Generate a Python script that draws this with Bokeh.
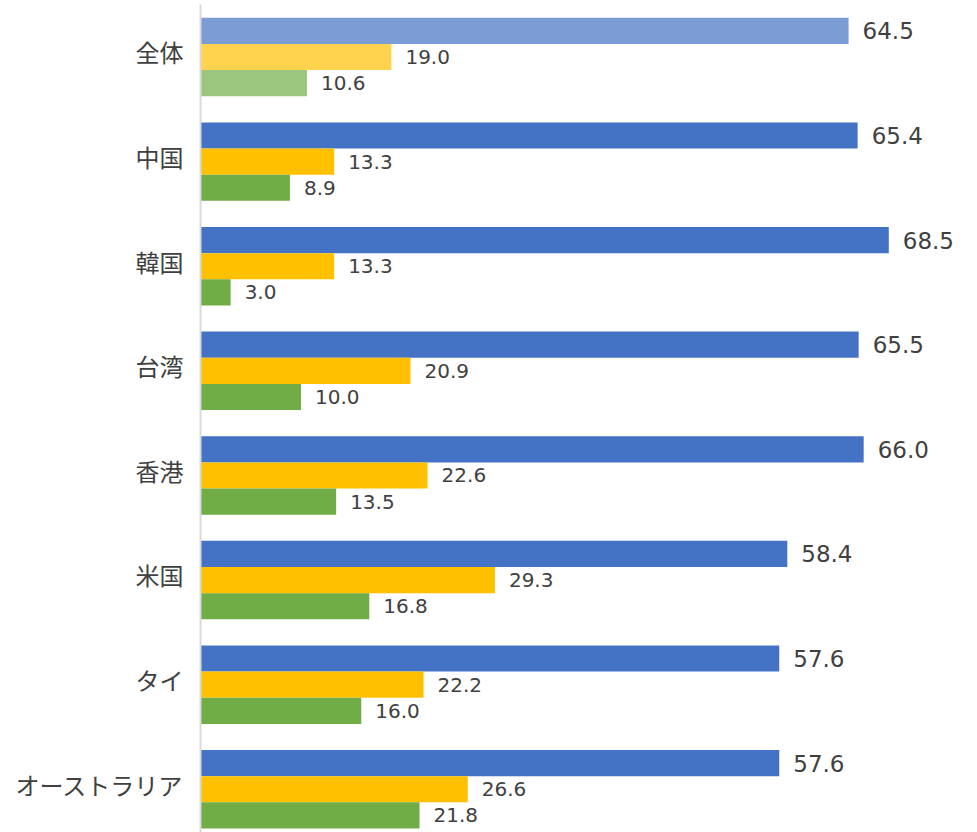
from bokeh.plotting import figure
from bokeh.models import ColumnDataSource, Range1d, FixedTicker
from bokeh.transform import dodge
from bokeh.core.properties import value
from bokeh.embed import file_html
from bokeh.resources import INLINE

categories = ["全体", "中国", "韓国", "台湾", "香港", "米国", "タイ", "オーストラリア"]
series_a = [64.5, 65.4, 68.5, 65.5, 66.0, 58.4, 57.6, 57.6]
series_b = [19.0, 13.3, 13.3, 20.9, 22.6, 29.3, 22.2, 26.6]
series_c = [10.6, 8.9, 3.0, 10.0, 13.5, 16.8, 16.0, 21.8]

colors_a = ["#7C9CD6"] + ["#4472C4"] * 7
colors_b = ["#FFD34D"] + ["#FFC000"] * 7
colors_c = ["#9BC67E"] + ["#70AD47"] * 7

idx = list(range(len(categories)))

y0, y1 = 7.413, -0.502
shift = 0.05  # lift category labels slightly above group centre, as in the original
p = figure(width=977, height=832, output_backend="svg", toolbar_location=None,
           x_range=Range1d(0, 77.33), y_range=Range1d(y0, y1),
           min_border_left=200, min_border_top=4, min_border_bottom=0, min_border_right=0)
p.extra_y_ranges = {"lab": Range1d(y0 + shift, y1 + shift)}
p.outline_line_color = None
p.grid.visible = False
p.xaxis.visible = False
p.background_fill_color = "white"
p.border_fill_color = "white"

yax = p.yaxis[0]
yax.y_range_name = "lab"
yax.ticker = FixedTicker(ticks=idx)
yax.major_label_overrides = {i: c for i, c in zip(idx, categories)}
yax.major_tick_line_color = None
yax.minor_tick_line_color = None
yax.major_tick_out = 0
yax.major_tick_in = 0
yax.major_label_standoff = 17
yax.axis_line_color = "#D9D9D9"
yax.axis_line_width = 2
yax.major_label_text_font = "Noto Sans CJK JP"
yax.major_label_text_font_size = "24px"
yax.major_label_text_color = "#404040"

fmt = lambda vals: [f"{v:.1f}" for v in vals]
src = ColumnDataSource(dict(y=idx, a=series_a, b=series_b, c=series_c,
                            ca=colors_a, cb=colors_b, cc=colors_c,
                            la=fmt(series_a), lb=fmt(series_b), lc=fmt(series_c)))

h = 0.25
for col, colr, off in [("a", "ca", -0.25), ("b", "cb", 0.0), ("c", "cc", 0.25)]:
    p.hbar(y=dodge("y", off, range=p.y_range), left=0, right=col, height=h,
           fill_color=colr, line_color=None, source=src)

for col, lab, off, size in [("a", "la", -0.25, "23px"), ("b", "lb", 0.0, "20px"), ("c", "lc", 0.25, "20px")]:
    p.text(x=col, y=dodge("y", off, range=p.y_range), text=lab, source=src,
           x_offset=14, text_align="left", text_baseline="middle",
           text_font=value("DejaVu Sans"), text_font_size=size, text_color="#404040")

open("out.html", "w").write(file_html(p, INLINE))
